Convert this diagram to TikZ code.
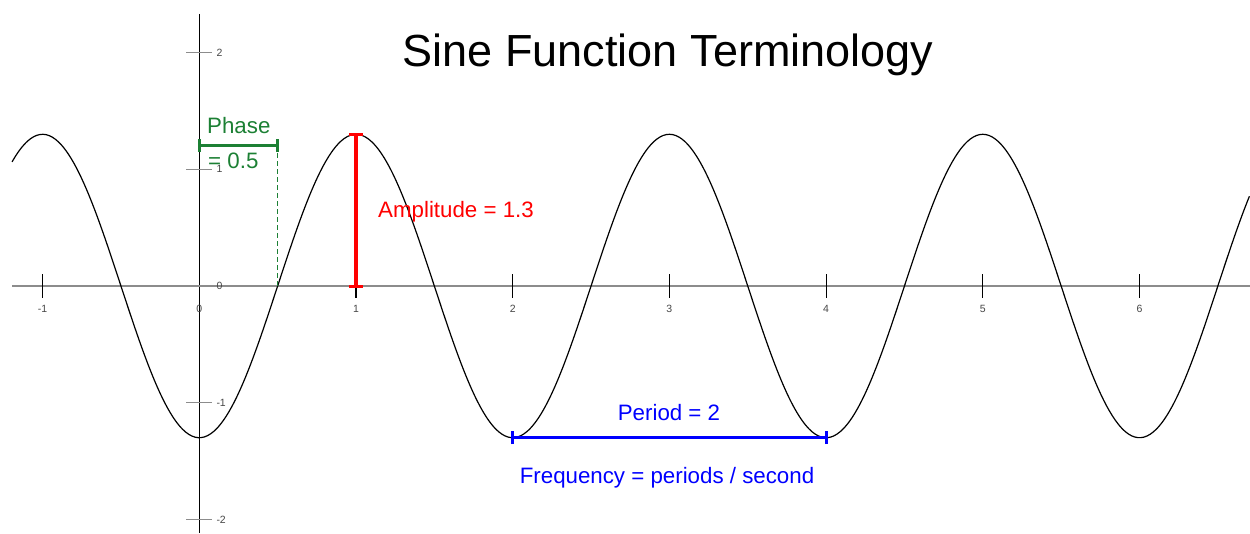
\documentclass[tikz,border=0pt]{standalone}
\usepackage{fontspec}
\setmainfont{Liberation Sans}
\definecolor{phasegreen}{RGB}{28,128,52}
\definecolor{axisgray}{RGB}{140,140,140}
\definecolor{ticklabelgray}{RGB}{70,70,70}
\definecolor{amped}{RGB}{255,0,0}
\definecolor{perblue}{RGB}{0,0,255}
\begin{document}
\begin{tikzpicture}[x=1pt,y=-1pt,
  xaxisline/.style={draw=axisgray,line width=1.8pt},
  yaxisline/.style={draw=black,line width=1.1pt},
  xtickmark/.style={draw=black,line width=1.2pt},
  ytickmark/.style={draw=axisgray,line width=1.5pt},
  ticklab/.style={text=ticklabelgray,font=\fontsize{10.5}{12}\selectfont,inner sep=0pt},
  curveline/.style={draw=black,line width=1.2pt},
  ampbar/.style={draw=amped,line width=4pt},
  ampcap/.style={draw=amped,line width=3pt},
  phasebar/.style={draw=phasegreen,line width=3pt},
  phasecap/.style={draw=phasegreen,line width=3pt},
  phasedash/.style={draw=phasegreen,line width=1.2pt,dash pattern=on 5pt off 3pt},
  perbar/.style={draw=perblue,line width=3.5pt},
  percap/.style={draw=perblue,line width=3pt},
  lab/.style={inner sep=0pt,font=\fontsize{22.3}{26}\selectfont},
  titlelab/.style={inner sep=0pt,font=\fontsize{45}{50}\selectfont}]
\useasboundingbox (0,0) rectangle (1250,533);
\begin{scope}[shift={(199.3,286)},x=156.7pt,y=116.7pt]
  % axes
  \coordinate (xl) at (-1.195,0);
  \coordinate (xr) at (6.705,0);
  \coordinate (yt) at (0,2.331);
  \coordinate (yb) at (0,-2.117);
  \draw[xaxisline] (xl) -- (xr);
  \draw[yaxisline] (yt) -- (yb);
  \foreach \i in {-1,1,2,3,4,5,6}{
    \coordinate (xt\i) at (\i,0);
    \draw[xtickmark] ([yshift=12pt]xt\i) -- ([yshift=-12pt]xt\i);
  }
  \foreach \i in {-1,0,1,2,3,4,5,6}{
    \node[ticklab] (xlab\i) at ([yshift=-22.5pt]\i,0) {\i};
  }
  \foreach \j in {-2,-1,0,1,2}{
    \coordinate (yt\j) at (0,\j);
    \draw[ytickmark] ([xshift=-13pt]yt\j) -- ([xshift=13pt]yt\j);
    \node[ticklab,anchor=west] (ylab\j) at ([xshift=17pt]yt\j) {\j};
  }
  % curve
  \draw[curveline] plot[domain=-1.195:6.705,samples=400,smooth] (\x,{-1.3*cos(180*\x)});
  % amplitude
  \coordinate (ampbot) at (1,0);
  \coordinate (amptop) at (1,1.3);
  \draw[ampbar] (ampbot) -- (amptop);
  \draw[ampcap] ([xshift=-7pt]amptop) -- ([xshift=7pt]amptop);
  \draw[ampcap] ([xshift=-7pt]ampbot) -- ([xshift=7pt]ampbot);
  % phase
  \coordinate (phl) at (0,1.204);
  \coordinate (phr) at (0.5,1.204);
  \coordinate (phz) at (0.5,0);
  \draw[phasedash] (phr) -- (phz);
  \draw[phasebar] (phl) -- (phr);
  \draw[phasecap] ([yshift=-6.5pt]phl) -- ([yshift=6.5pt]phl);
  \draw[phasecap] ([yshift=-6.5pt]phr) -- ([yshift=6.5pt]phr);
  % period
  \coordinate (perl) at (2,-1.3);
  \coordinate (perr) at (4,-1.3);
  \draw[perbar] (perl) -- (perr);
  \draw[percap] ([yshift=-6.5pt]perl) -- ([yshift=6.5pt]perl);
  \draw[percap] ([yshift=-6.5pt]perr) -- ([yshift=6.5pt]perr);
\end{scope}
% texts
\node[titlelab,anchor=base] (title) at (668,66.5) {Sine Function Terminology};
\node[lab,anchor=base west,text=amped] (amplab) at (378,217.7) {Amplitude = 1.3};
\node[lab,anchor=base west,text=phasegreen] (phlab1) at (207,133) {Phase};
\node[lab,anchor=base west,text=phasegreen] (phlab2) at (208,168) {= 0.5};
\node[lab,anchor=base,text=perblue] (perlab) at (669,420.7) {Period = 2};
\node[lab,anchor=base,text=perblue] (freqlab) at (667,483.3) {Frequency = periods / second};
\end{tikzpicture}
\end{document}
